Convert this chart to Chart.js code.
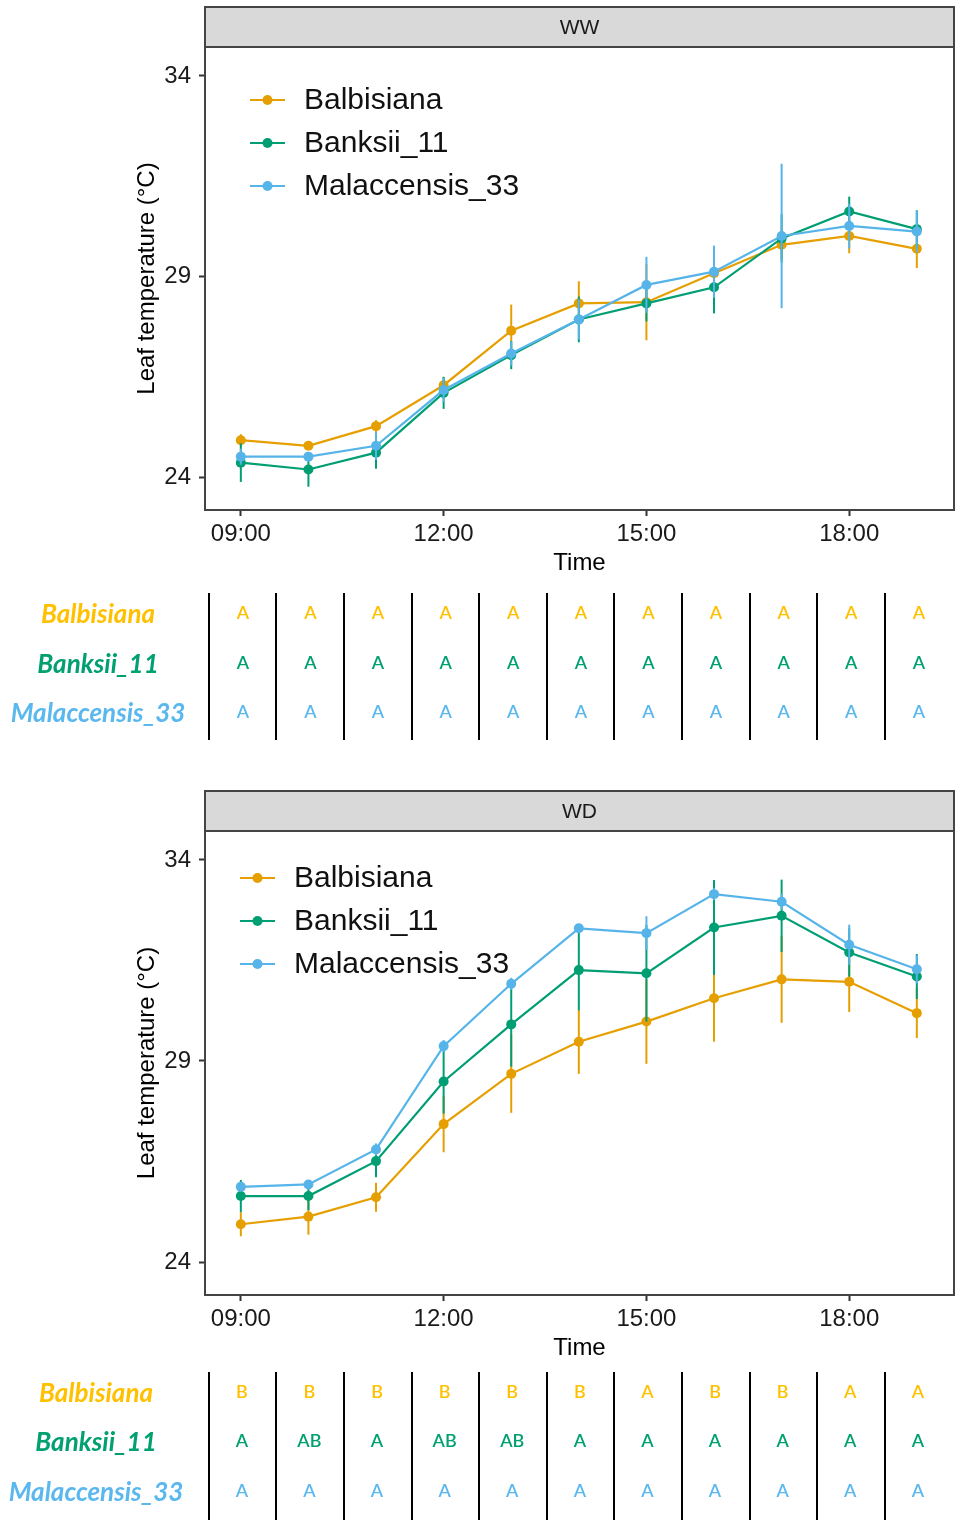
<!DOCTYPE html>
<html><head><meta charset="utf-8">
<script src="https://cdn.jsdelivr.net/npm/chart.js@4/dist/chart.umd.min.js"></script>
<style>
html,body{margin:0;padding:0;background:#fff;}
#wrap{position:relative;width:959px;height:1523px;}
canvas{position:absolute;left:0;}
</style></head><body>
<div id="wrap">
<canvas id="c1" width="959" height="780" style="top:0"></canvas>
<canvas id="c2" width="959" height="743" style="top:780px"></canvas>
</div>
<script>
// ---------- data ----------
const hours = [9,10,11,12,13,14,15,16,17,18,19];
const tickValues = [9,12,15,18];
const tickLabels = ['09:00','12:00','15:00','18:00'];
const yTicks = [24,29,34];
const genotypes = ['Balbisiana','Banksii_11','Malaccensis_33'];

// WW treatment (mean, error)
const wwBalbisiana     = [24.92,24.78,25.27,26.29,27.65,28.33,28.36,29.08,29.79,30.01,29.69];
const wwBalbisianaErr  = [0.15,0.10,0.15,0.20,0.65,0.55,0.95,0.60,0.35,0.43,0.48];
const wwBanksii        = [24.36,24.19,24.61,26.10,27.04,27.93,28.33,28.73,29.95,30.62,30.18];
const wwBanksiiErr     = [0.48,0.43,0.40,0.40,0.35,0.57,0.45,0.65,0.60,0.37,0.47];
const wwMalaccensis    = [24.51,24.51,24.78,26.17,27.08,27.93,28.79,29.12,30.01,30.26,30.12];
const wwMalaccensisErr = [0.20,0.10,0.35,0.30,0.30,0.50,0.70,0.65,1.80,0.56,0.52];

// WD treatment (mean, error)
const wdBalbisiana     = [24.94,25.13,25.61,27.43,28.68,29.48,29.98,30.56,31.03,30.97,30.19];
const wdBalbisianaErr  = [0.30,0.45,0.36,0.70,0.97,0.80,1.05,1.08,1.08,0.75,0.62];
const wdBanksii        = [25.64,25.64,26.51,28.49,29.91,31.26,31.18,32.32,32.61,31.70,31.10];
const wdBanksiiErr     = [0.40,0.35,0.40,0.80,1.05,1.00,1.20,1.18,0.90,0.60,0.56];
const wdMalaccensis    = [25.87,25.93,26.80,29.37,30.92,32.30,32.18,33.15,32.96,31.89,31.28];
const wdMalaccensisErr = [0.10,0.10,0.15,0.15,0.15,0.10,0.42,0.15,0.20,0.50,0.35];

// significance letters
const wwLettersBalbisiana  = ['A','A','A','A','A','A','A','A','A','A','A'];
const wwLettersBanksii     = ['A','A','A','A','A','A','A','A','A','A','A'];
const wwLettersMalaccensis = ['A','A','A','A','A','A','A','A','A','A','A'];
const wdLettersBalbisiana  = ['B','B','B','B','B','B','A','B','B','A','A'];
const wdLettersBanksii     = ['A','AB','A','AB','AB','A','A','A','A','A','A'];
const wdLettersMalaccensis = ['A','A','A','A','A','A','A','A','A','A','A'];

// ---------- styles ----------
const lineColors  = ['#E69F00','#009E73','#56B4E9'];
const tableColors = ['#FFC000','#00A070','#5BB8EE'];
const AX_FONT = 'Liberation Sans, Arial, sans-serif';

function mkData(vals){ return hours.map((h,i)=>({x:h,y:vals[i]})); }

const errorBars = {
  id:'errorBars',
  afterDatasetDraw(chart, args){
    const ds = chart.data.datasets[args.index];
    const errs = ds.errors; if(!errs) return;
    const xs = chart.scales.x, ys = chart.scales.y, ctx = chart.ctx;
    ctx.save();
    ctx.strokeStyle = ds.borderColor; ctx.lineWidth = 2;
    ds.data.forEach((p,i)=>{
      const x = xs.getPixelForValue(p.x);
      ctx.beginPath();
      ctx.moveTo(x, ys.getPixelForValue(p.y - errs[i]));
      ctx.lineTo(x, ys.getPixelForValue(p.y + errs[i]));
      ctx.stroke();
    });
    ctx.restore();
  }
};

const panelDeco = {
  id:'panelDeco',
  afterDraw(chart, args, opts){
    const ctx = chart.ctx, a = chart.chartArea;
    ctx.save();
    // strip
    ctx.fillStyle = '#D9D9D9';
    ctx.fillRect(a.left, opts.stripTop, a.right - a.left, a.top - opts.stripTop);
    ctx.strokeStyle = '#444'; ctx.lineWidth = 2;
    ctx.strokeRect(a.left, opts.stripTop, a.right - a.left, a.top - opts.stripTop);
    ctx.fillStyle = '#1a1a1a';
    ctx.font = '21px ' + AX_FONT;
    ctx.textAlign = 'center'; ctx.textBaseline = 'middle';
    ctx.fillText(opts.strip, (a.left + a.right)/2, (opts.stripTop + a.top)/2 + 1);
    // panel border
    ctx.strokeStyle = '#444'; ctx.lineWidth = 2;
    ctx.strokeRect(a.left, a.top, a.right - a.left, a.bottom - a.top);
    // legend inside panel
    ctx.font = '30px ' + AX_FONT;
    ctx.textAlign = 'left';
    chart.data.datasets.forEach((ds, i)=>{
      const y = opts.legY + i*43;
      ctx.strokeStyle = ds.borderColor; ctx.lineWidth = 2.2;
      ctx.beginPath(); ctx.moveTo(opts.legX, y); ctx.lineTo(opts.legX + 35, y); ctx.stroke();
      ctx.fillStyle = ds.borderColor;
      ctx.beginPath(); ctx.arc(opts.legX + 17.5, y, 5, 0, Math.PI*2); ctx.fill();
      ctx.fillStyle = '#111';
      ctx.fillText(ds.label, opts.legX + 54, y + 1);
    });
    // letters table
    const xs = chart.scales.x;
    ctx.strokeStyle = '#000'; ctx.lineWidth = 2;
    hours.forEach(h=>{
      const x = Math.round(xs.getPixelForValue(h)) - 32;
      ctx.beginPath(); ctx.moveTo(x, opts.tabTop); ctx.lineTo(x, opts.tabBottom); ctx.stroke();
    });
    opts.letters.forEach((row, r)=>{
      const y = opts.rowY[r];
      ctx.fillStyle = tableColors[r];
      ctx.font = 'italic bold 26px Lato, "Open Sans", sans-serif';
      ctx.textAlign = 'center'; ctx.textBaseline = 'middle';
      ctx.fillText(genotypes[r], opts.labelX, y + 2);
      ctx.font = '600 18px Lato, "Open Sans", sans-serif';
      row.forEach((t, i)=>{
        ctx.fillText(t, xs.getPixelForValue(hours[i]) + opts.letterDx, y);
      });
    });
    ctx.restore();
  }
};

function makeChart(id, series, errs, deco, pad){
  const datasets = series.map((s,i)=>({
    label: genotypes[i],
    data: mkData(s),
    errors: errs[i],
    borderColor: lineColors[i],
    backgroundColor: lineColors[i],
    borderWidth: 2.2,
    pointRadius: 5,
    pointBorderWidth: 0,
    pointHoverRadius: 5,
    tension: 0,
    order: 2 - i
  }));
  return new Chart(document.getElementById(id), {
    type:'line',
    data:{datasets},
    plugins:[errorBars, panelDeco],
    options:{
      responsive:false, animation:false, devicePixelRatio:1,
      layout:{padding:pad},
      plugins:{legend:{display:false}, tooltip:{enabled:false}, panelDeco:deco},
      scales:{
        x:{
          type:'linear', min:8.47, max:19.55,
          afterBuildTicks(s){ s.ticks = tickValues.map(v=>({value:v})); },
          afterFit(s){ s.height = 68; },
          ticks:{ callback:(v)=>tickLabels[tickValues.indexOf(v)], font:{size:24, family:AX_FONT}, color:'#1a1a1a', padding:4, maxRotation:0, autoSkip:false },
          grid:{ display:true, drawOnChartArea:false, drawTicks:true, tickLength:6, tickColor:'#333', tickWidth:2 },
          border:{ display:false },
          title:{ display:true, text:'Time', font:{size:24, family:AX_FONT}, color:'#000', padding:{top:0,bottom:0} }
        },
        y:{
          type:'linear', min:23.18, max:34.72,
          afterBuildTicks(s){ s.ticks = yTicks.map(v=>({value:v})); },
          afterFit(s){ s.width = 72; },
          ticks:{ font:{size:24, family:AX_FONT}, color:'#1a1a1a', padding:8 },
          grid:{ display:true, drawOnChartArea:false, drawTicks:true, tickLength:6, tickColor:'#333', tickWidth:2 },
          border:{ display:false },
          title:{ display:true, text:'Leaf temperature (°C)', font:{size:24, family:AX_FONT}, color:'#000', padding:{top:0,bottom:0} }
        }
      }
    }
  });
}

makeChart('c1',
  [wwBalbisiana, wwBanksii, wwMalaccensis],
  [wwBalbisianaErr, wwBanksiiErr, wwMalaccensisErr],
  { strip:'WW', stripTop:7, legX:250, legY:100,
    letters:[wwLettersBalbisiana, wwLettersBanksii, wwLettersMalaccensis],
    rowY:[613,663,712], tabTop:593, tabBottom:740, labelX:98, letterDx:2 },
  {left:133, right:4, top:47, bottom:202});

makeChart('c2',
  [wdBalbisiana, wdBanksii, wdMalaccensis],
  [wdBalbisianaErr, wdBanksiiErr, wdMalaccensisErr],
  { strip:'WD', stripTop:11, legX:240, legY:98,
    letters:[wdLettersBalbisiana, wdLettersBanksii, wdLettersMalaccensis],
    rowY:[612,661,711], tabTop:592, tabBottom:740, labelX:96, letterDx:1 },
  {left:133, right:4, top:51, bottom:160});
</script>
</body></html>
